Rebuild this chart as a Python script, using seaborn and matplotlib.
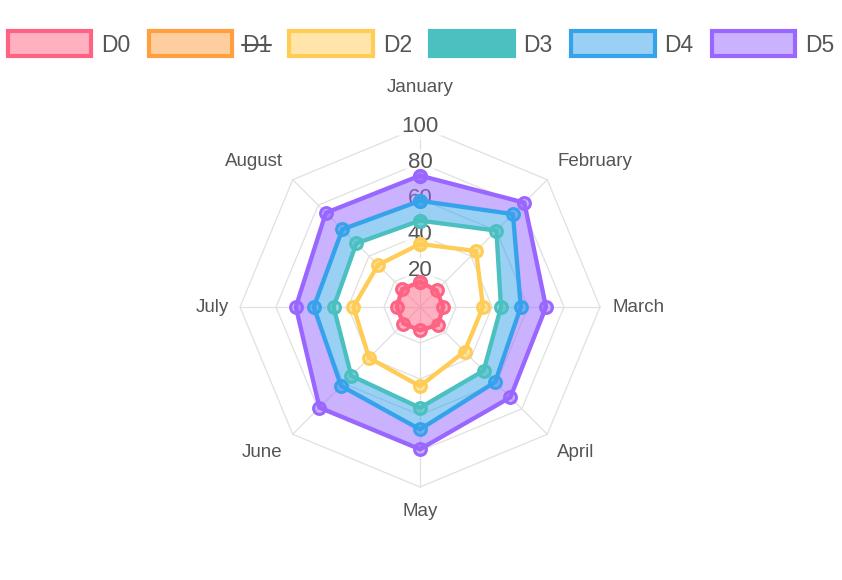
import numpy as np
import pandas as pd
import matplotlib
matplotlib.use('Agg')
import matplotlib.pyplot as plt
from matplotlib.path import Path
from matplotlib.patches import PathPatch, Patch
from matplotlib.lines import Line2D
import seaborn as sns

# Data (D1 is hidden in the chart, legend only)
months = ['January', 'February', 'March', 'April', 'May', 'June', 'July', 'August']
d0 = [14, 13, 13, 14, 13, 13, 13, 14]
d2 = [35, 44, 35, 35, 44, 40, 37, 33]
d3 = [48, 60, 45, 50, 56, 54, 48, 50]
d4 = [59, 73, 56, 59, 68, 62, 59, 61]
d5 = [73, 82, 70, 71, 79, 79, 69, 74]
radial_ticks = [20, 40, 60, 80, 100]
legend_labels = ['D0', 'D1', 'D2', 'D3', 'D4', 'D5']

#Colors (line, fill)
def rgb(r, g, b, a=1.0):
    return (r / 255, g / 255, b / 255, a)

red = rgb(255, 99, 132)
orange = rgb(255, 159, 64)
yellow = rgb(255, 205, 86)
green = rgb(75, 192, 192)
blue = rgb(54, 162, 235)
purple = rgb(153, 102, 255)

def light(c):
    return (c[0], c[1], c[2], 0.5)

sns.set_theme(style='white')
plt.rcParams['font.family'] = ['Liberation Sans', 'DejaVu Sans']
text_color = '#555555'
grid_color = '#e0e0e0'

n = len(months)
angles = np.arange(n) * 2 * np.pi / n


def to_frame(values):
    """Radar values -> closed polygon in x/y (clockwise from top)."""
    vals = list(values) + [values[0]]
    ang = list(angles) + [angles[0]]
    return pd.DataFrame({
        'x': np.array(vals) * np.sin(ang),
        'y': np.array(vals) * np.cos(ang),
    })


def ring_path(outer, inner=None):
    o = to_frame(outer)[['x', 'y']].values
    verts = list(o)
    codes = [Path.MOVETO] + [Path.LINETO] * (len(o) - 2) + [Path.CLOSEPOLY]
    if inner is not None:
        i = to_frame(inner)[['x', 'y']].values[::-1]
        verts += list(i)
        codes += [Path.MOVETO] + [Path.LINETO] * (len(i) - 2) + [Path.CLOSEPOLY]
    return Path(verts, codes)


fig = plt.figure(figsize=(8.42, 5.8), dpi=100)
R = 135
px = 1.8  # pixels per unit
cx, cy = 420, 307
ax = fig.add_axes([(cx - R * px) / 842, (580 - cy - R * px) / 580, 2 * R * px / 842, 2 * R * px / 580])
ax.set_xlim(-R, R)
ax.set_ylim(-R, R)
ax.axis('off')

#Grid polygons and angle lines
for t in radial_ticks:
    g = to_frame([t] * n)
    ax.plot(g['x'], g['y'], color=grid_color, lw=0.9, zorder=1)
for a in angles:
    ax.plot([0, 100 * np.sin(a)], [0, 100 * np.cos(a)], color=grid_color, lw=0.9, zorder=1)

#Radial tick labels (drawn beneath the datasets)
for t in radial_ticks:
    ax.text(0, t, str(t), ha='center', va='center', fontsize=16, color=text_color, zorder=2,
            bbox=dict(boxstyle='square,pad=0.1', fc=(1, 1, 1, 0.8), ec='none'))

#Point labels
label_r = [117, 108, 107, 108, 109, 108, 106, 108]
for m, a, r in zip(months, angles, label_r):
    s, c = np.sin(a), np.cos(a)
    ha = 'center' if abs(s) < 0.01 else ('left' if s > 0 else 'right')
    va = 'center' if abs(c) < 0.01 else ('bottom' if c > 0 else 'top')
    ax.text(r * s, r * c, m, ha=ha, va=va, fontsize=13.5, color=text_color)

#Fills: D0 from origin, D4 to D3, D5 to D4
ax.add_patch(PathPatch(ring_path(d0), fc=light(red), ec='none', zorder=3))
ax.add_patch(PathPatch(ring_path(d4, d3), fc=light(blue), ec='none', zorder=3))
ax.add_patch(PathPatch(ring_path(d5, d4), fc=light(purple), ec='none', zorder=3))

#Lines + points
series = [(d5, purple), (d4, blue), (d3, green), (d2, yellow), (d0, red)]
for vals, col in series:
    df = to_frame(vals)
    sns.lineplot(data=df, x='x', y='y', sort=False, estimator=None, ax=ax, color=col,
                 lw=3.1, marker='o', markersize=8.5, markeredgewidth=2.2,
                 markerfacecolor=light(col), markeredgecolor=col, zorder=4)
ax.set_xlim(-R, R)
ax.set_ylim(-R, R)

#Legend
handles = [
    Patch(fc=light(red), ec=red, lw=3),
    Patch(fc=light(orange), ec=orange, lw=3),
    Patch(fc=light(yellow), ec=yellow, lw=3),
    Patch(fc=green, ec=green, lw=3),
    Patch(fc=light(blue), ec=blue, lw=3),
    Patch(fc=light(purple), ec=purple, lw=3),
]
leg = fig.legend(handles, legend_labels, loc='center', bbox_to_anchor=(0.5, 1 - 44 / 580), ncol=6,
                 frameon=False, fontsize=16.5, handlelength=3.65, handleheight=1.3,
                 handletextpad=0.42, columnspacing=0.8, labelcolor=text_color)

#Strike through the hidden D1 label
fig.canvas.draw()
renderer = fig.canvas.get_renderer()
bb = leg.get_texts()[1].get_window_extent(renderer)
inv = fig.transFigure.inverted()
(x0, y0), (x1, y1) = inv.transform([(bb.x0, (bb.y0 + bb.y1) / 2), (bb.x1, (bb.y0 + bb.y1) / 2)])
fig.add_artist(Line2D([x0, x1], [y0, y0], transform=fig.transFigure, color=text_color, lw=1.5))

fig.savefig('out.png', dpi=100)
